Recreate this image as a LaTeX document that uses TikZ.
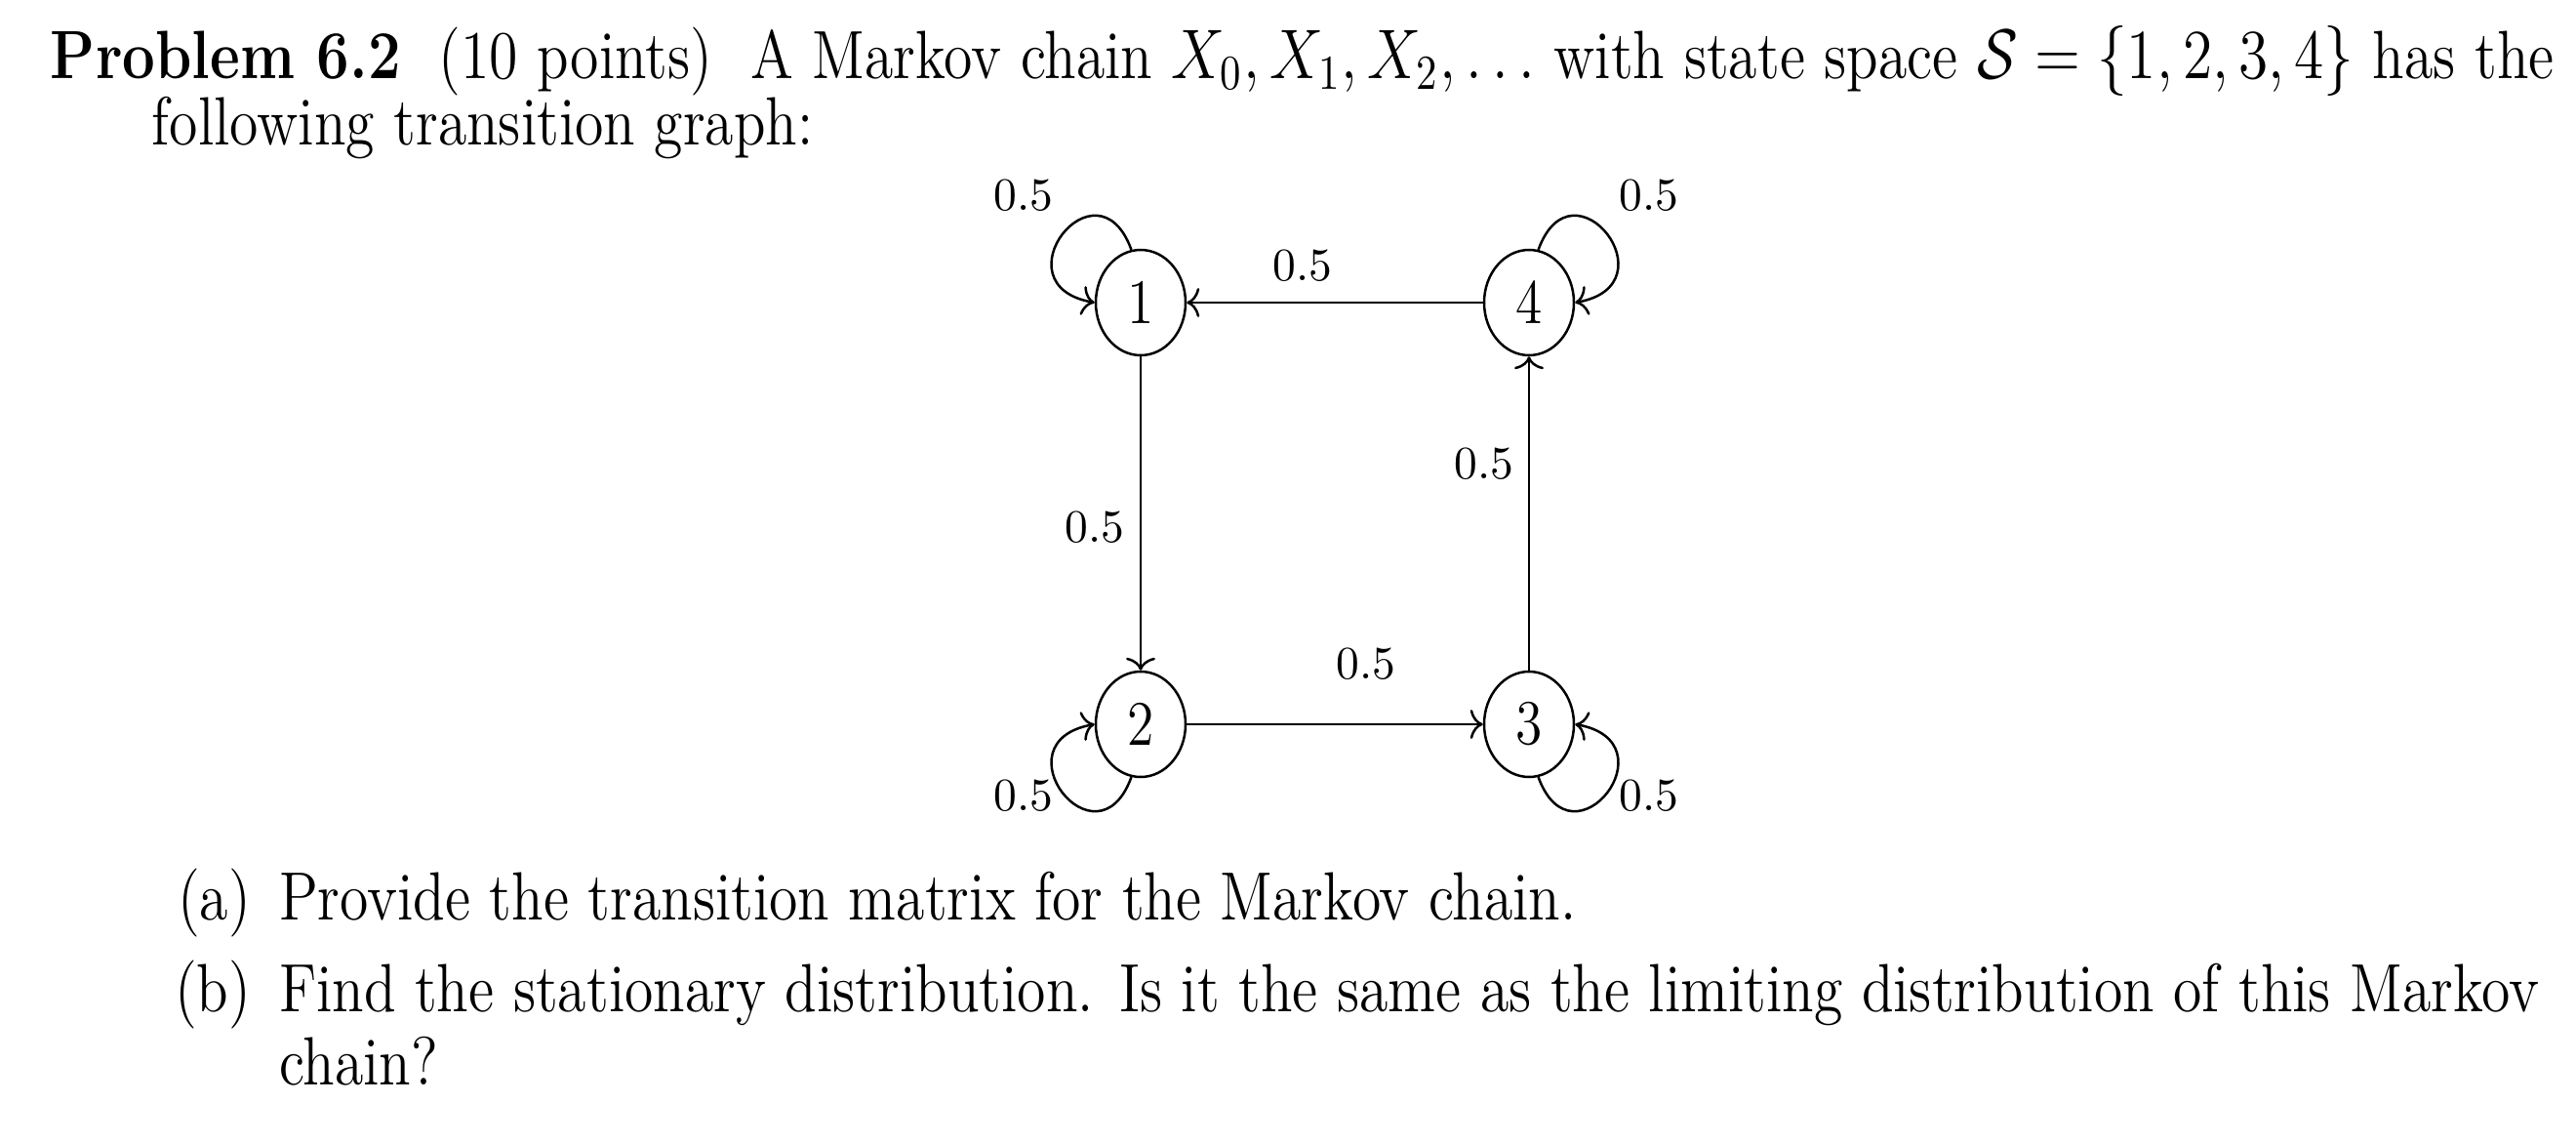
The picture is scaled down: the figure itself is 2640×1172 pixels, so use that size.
\documentclass[tikz,border=0pt]{standalone}
\usetikzlibrary{shapes.geometric,arrows.meta}
\begin{document}
\begin{tikzpicture}[x=0.2pt,y=-0.2pt,
  st/.style={ellipse,draw,line width=0.5pt,minimum width=18.4pt,minimum height=21.6pt,inner sep=0pt,font=\fontsize{13}{15}\selectfont},
  lab/.style={font=\fontsize{9.5}{11}\selectfont,inner sep=0pt},
  txt/.style={anchor=base west,inner sep=0pt,font=\fontsize{14}{17}\selectfont},
  ar/.style={-{To[length=2.6pt,width=6pt]},line width=0.5pt}]
\newcommand{\sx}[1]{\scalebox{0.855}[1]{#1}}
\useasboundingbox (0,0) rectangle (2640,1172);
\node[txt] (l1) at (51,81) {\sx{\textbf{Problem 6.2}\ \ (10 points)\ \ A Markov chain $X_0,X_1,X_2,\ldots$ with state space $\mathcal{S}=\{1,2,3,4\}$ has the}};
\node[txt] (l2) at (155,149) {\sx{following transition graph:}};
\node (n1) [st] at (1169,310) {\sx{1}};
\node (n4) [st] at (1567,310) {\sx{4}};
\node (n2) [st] at (1169,742) {\sx{2}};
\node (n3) [st] at (1567,742) {\sx{3}};
\draw[ar] (n4) -- (n1);
\draw[ar] (n1) -- (n2);
\draw[ar] (n2) -- (n3);
\draw[ar] (n3) -- (n4);
\draw[ar] (n1.100) to[out=110,in=170,looseness=4] (n1.180);
\draw[ar] (n4.80) to[out=70,in=10,looseness=4] (n4.0);
\draw[ar] (n2.260) to[out=250,in=190,looseness=4] (n2.180);
\draw[ar] (n3.280) to[out=290,in=350,looseness=4] (n3.0);
\node[lab] (a1) at (1049,200) {0.5};
\node[lab] (a4) at (1690,200) {0.5};
\node[lab] (a2) at (1049,815) {0.5};
\node[lab] (a3) at (1690,815) {0.5};
\node[lab] (e41) at (1335,272) {0.5};
\node[lab] (e12) at (1122,540) {0.5};
\node[lab] (e23) at (1400,680) {0.5};
\node[lab] (e34) at (1521,475) {0.5};
\node[txt] (pa) at (181,942) {\sx{(a)}};
\node[txt] (pat) at (285,942) {\sx{Provide the transition matrix for the Markov chain.}};
\node[txt] (pb) at (178,1036) {\sx{(b)}};
\node[txt] (pbt) at (285,1036) {\sx{Find the stationary distribution. Is it the same as the limiting distribution of this Markov}};
\node[txt] (pbt2) at (285,1111) {\sx{chain?}};
\end{tikzpicture}
\end{document}
